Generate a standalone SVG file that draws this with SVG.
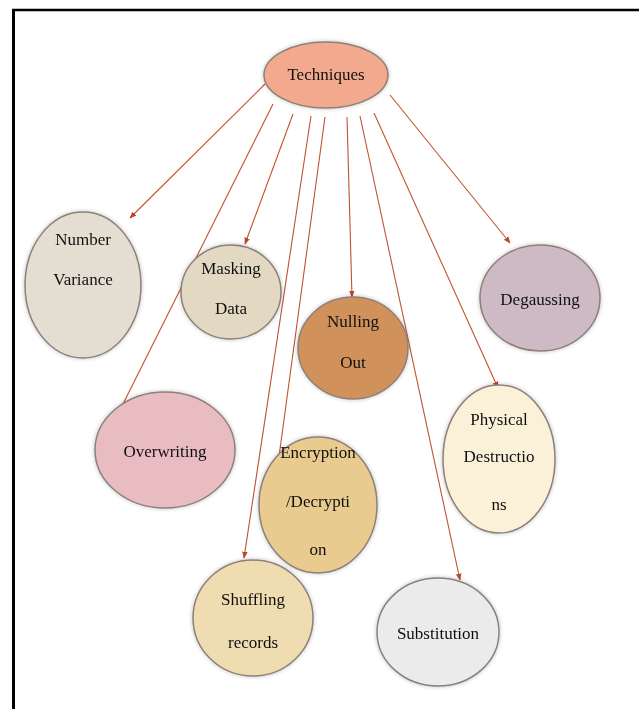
<svg xmlns="http://www.w3.org/2000/svg" width="639" height="709" viewBox="0 0 639 709">
<style>
  .n { stroke:#8c8079; stroke-width:1.5; }
  .t { font-family:"Liberation Serif","DejaVu Serif",serif; font-size:17px; fill:#111111; text-anchor:middle; }
  .c { stroke:#c0532f; stroke-width:1.1; fill:none; marker-end:url(#ah); }
</style>
<defs>
  <marker id="ah" viewBox="0 0 10 10" refX="9" refY="5" markerWidth="7" markerHeight="7" orient="auto" markerUnits="userSpaceOnUse">
    <path d="M0,1 L10,5 L0,9 z" fill="#b8482a"/>
  </marker>
  <filter id="sh" x="-20%" y="-20%" width="140%" height="140%">
    <feGaussianBlur in="SourceAlpha" stdDeviation="2"/>
    <feComponentTransfer><feFuncA type="linear" slope="0.25"/></feComponentTransfer>
    <feMerge><feMergeNode/><feMergeNode in="SourceGraphic"/></feMerge>
  </filter>
</defs>
<rect width="639" height="709" fill="#ffffff"/>
<g id="frame" stroke="#000" fill="none">
  <line x1="13.5" y1="9" x2="13.5" y2="709" stroke-width="3"/>
  <line x1="12" y1="10" x2="639" y2="10" stroke-width="2.5"/>
</g>
<g id="connectors">
  <line class="c" x1="265" y1="84" x2="130" y2="218"/>
  <line class="c" x1="273" y1="104" x2="117" y2="416"/>
  <line class="c" x1="293" y1="114" x2="245" y2="244"/>
  <line class="c" x1="311" y1="116" x2="244" y2="558"/>
  <line class="c" x1="325" y1="117" x2="278" y2="464"/>
  <line class="c" x1="347" y1="117" x2="352" y2="297"/>
  <line class="c" x1="360" y1="116" x2="460" y2="580"/>
  <line class="c" x1="374" y1="113" x2="498" y2="388"/>
  <line class="c" x1="390" y1="95" x2="510" y2="243"/>
</g>
<g id="techniques" filter="url(#sh)">
  <ellipse class="n" cx="326" cy="75" rx="62" ry="33" fill="#f2a98d"/>
  <text class="t" x="326" y="80">Techniques</text>
</g>
<g id="number-variance" filter="url(#sh)">
  <ellipse class="n" cx="83" cy="285" rx="58" ry="73" fill="#e4ddd2"/>
  <text class="t" x="83" y="245">Number</text>
  <text class="t" x="83" y="285">Variance</text>
</g>
<g id="masking-data" filter="url(#sh)">
  <ellipse class="n" cx="231" cy="292" rx="50" ry="47" fill="#e3d9c3"/>
  <text class="t" x="231" y="274">Masking</text>
  <text class="t" x="231" y="314">Data</text>
</g>
<g id="nulling-out" filter="url(#sh)">
  <ellipse class="n" cx="353" cy="348" rx="55" ry="51" fill="#d0925a"/>
  <text class="t" x="353" y="327">Nulling</text>
  <text class="t" x="353" y="368">Out</text>
</g>
<g id="degaussing" filter="url(#sh)">
  <ellipse class="n" cx="540" cy="298" rx="60" ry="53" fill="#cdbac4"/>
  <text class="t" x="540" y="305">Degaussing</text>
</g>
<g id="overwriting" filter="url(#sh)">
  <ellipse class="n" cx="165" cy="450" rx="70" ry="58" fill="#e9bcc1"/>
  <text class="t" x="165" y="457">Overwriting</text>
</g>
<g id="encryption" filter="url(#sh)">
  <ellipse class="n" cx="318" cy="505" rx="59" ry="68" fill="#e9ca8f"/>
  <text class="t" x="318" y="458">Encryption</text>
  <text class="t" x="318" y="507">/Decrypti</text>
  <text class="t" x="318" y="555">on</text>
</g>
<g id="physical-destructions" filter="url(#sh)">
  <ellipse class="n" cx="499" cy="459" rx="56" ry="74" fill="#fbf0d8"/>
  <text class="t" x="499" y="425">Physical</text>
  <text class="t" x="499" y="462">Destructio</text>
  <text class="t" x="499" y="510">ns</text>
</g>
<g id="shuffling-records" filter="url(#sh)">
  <ellipse class="n" cx="253" cy="618" rx="60" ry="58" fill="#efdcb0"/>
  <text class="t" x="253" y="605">Shuffling</text>
  <text class="t" x="253" y="648">records</text>
</g>
<g id="substitution" filter="url(#sh)">
  <ellipse class="n" cx="438" cy="632" rx="61" ry="54" fill="#ebebeb"/>
  <text class="t" x="438" y="639">Substitution</text>
</g>
</svg>
